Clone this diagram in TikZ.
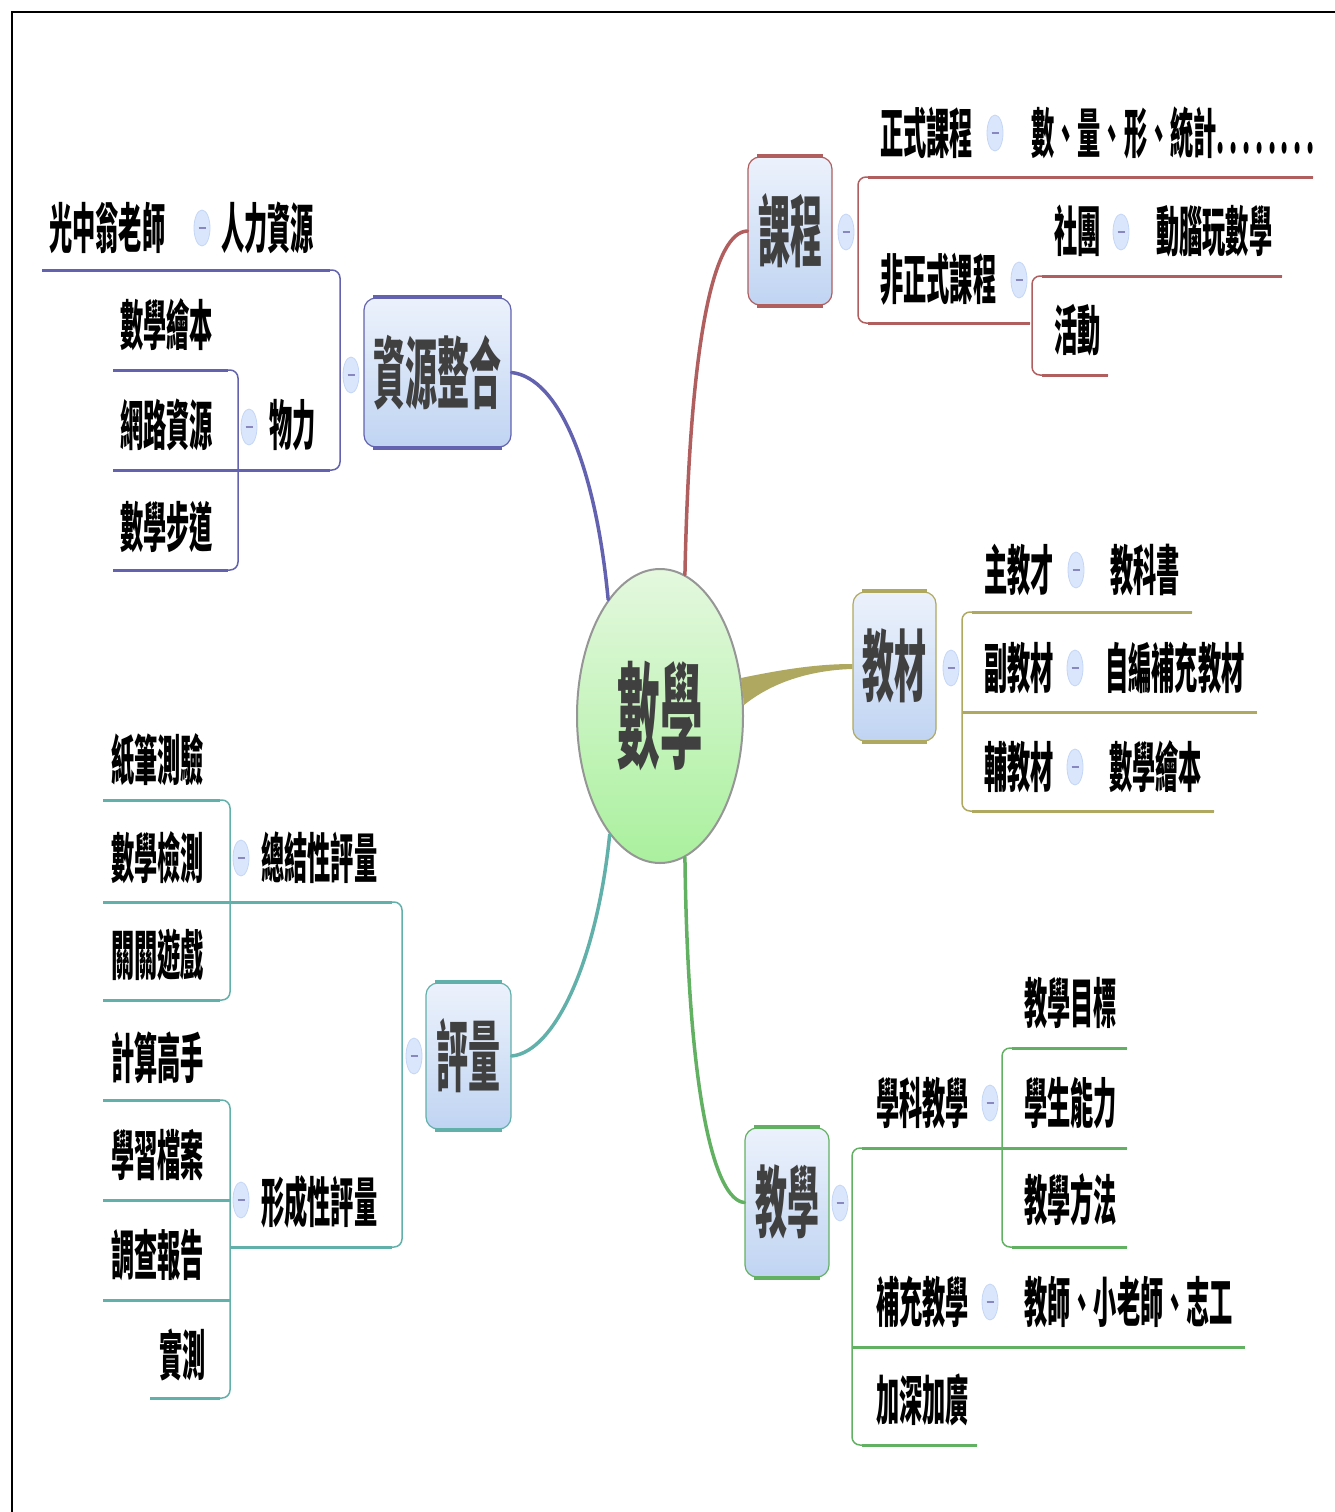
\documentclass[tikz,border=0pt]{standalone}
\usepackage{fontspec}
\usepackage{graphicx}
\newfontfamily\cjk{Noto Sans CJK TC}
\usetikzlibrary{shapes.geometric}
\definecolor{cRed}{RGB}{176,94,94}
\definecolor{cBlue}{RGB}{98,98,176}
\definecolor{cOlive}{RGB}{174,168,96}
\definecolor{cTeal}{RGB}{98,176,170}
\definecolor{cGreen}{RGB}{98,176,98}
\definecolor{boxTop}{RGB}{236,242,252}
\definecolor{boxBot}{RGB}{192,212,242}
\definecolor{knobFill}{RGB}{218,230,252}
\definecolor{knobEdge}{RGB}{196,214,246}
\definecolor{knobMinus}{RGB}{136,136,190}
\definecolor{txtGray}{RGB}{64,64,64}
\definecolor{ellTop}{RGB}{228,248,222}
\definecolor{ellBot}{RGB}{170,240,158}
\definecolor{ellEdge}{RGB}{150,150,150}
\newcommand{\sq}[2][0.43]{\scalebox{#1}[1]{#2}}
\newcommand{\dd}{.\kern0.2em}
\begin{document}
\begin{tikzpicture}[x=1pt,y=-1pt,
  sub/.style={inner sep=0pt, anchor=west, font=\cjk\bfseries\fontsize{54}{60}\selectfont, text=black},
  mainbox/.style={draw=#1, line width=1.2pt, rounded corners=12pt, top color=boxTop, bottom color=boxBot,
     inner sep=0pt, font=\cjk\bfseries\fontsize{78}{80}\selectfont, text=txtGray},
  knob/.style={ellipse, draw=knobEdge, fill=knobFill, line width=0.8pt, minimum width=16pt, minimum height=36pt, inner sep=0pt,
     path picture={\draw[knobMinus, line width=1.8pt] ([xshift=-3.5pt]path picture bounding box.center) -- ([xshift=3.5pt]path picture bounding box.center);}},
  hl/.style={line width=3pt, draw=#1},
  vl/.style={line width=1.5pt, draw=#1, rounded corners=8pt},
  conn/.style={line width=3.5pt, draw=#1, line cap=round},
]
\useasboundingbox (0,0) rectangle (1335,1512);
% frame
\draw[line width=2.5pt] (12,1512) -- (12,12) -- (1335,12);

% centre
\node[ellipse, minimum width=166pt, minimum height=294pt, inner sep=0pt, top color=ellTop, bottom color=ellBot,
      draw=ellEdge, line width=2pt, font=\cjk\bfseries\fontsize{115}{120}\selectfont, text=txtGray] (c) at (660,716) {\sq[0.37]{數學}};

% main boxes
\node[mainbox=cRed, minimum width=84pt, minimum height=148pt] (kc) at (790,231) {\sq[0.41]{課程}};
\node[mainbox=cBlue, minimum width=147pt, minimum height=149pt] (zy) at (437.5,372.5) {\sq[0.41]{資源整合}};
\node[mainbox=cOlive, minimum width=83pt, minimum height=149pt] (jc) at (894.5,666.5) {\sq[0.41]{教材}};
\node[mainbox=cTeal, minimum width=85pt, minimum height=146pt] (pl) at (468.5,1056) {\sq[0.41]{評量}};
\node[mainbox=cGreen, minimum width=84pt, minimum height=149pt] (jx) at (787,1202.5) {\sq[0.41]{教學}};
\foreach \b/\col in {kc/cRed, zy/cBlue, jc/cOlive, pl/cTeal, jx/cGreen}{
  \draw[line width=4pt, \col] ([xshift=10pt]\b.north west) -- ([xshift=-10pt]\b.north east);
  \draw[line width=4pt, \col] ([xshift=10pt]\b.south west) -- ([xshift=-10pt]\b.south east);
}

% connectors from centre
\draw[conn=cRed] (c.80) .. controls (690,330) and (715,232) .. (kc.west);
\draw[conn=cBlue] (c.114) .. controls (596,470) and (560,378) .. (zy.east);
\draw[conn=cTeal] (c.247) .. controls (597,960) and (555,1052) .. (pl.east);
\draw[conn=cGreen] (c.280) .. controls (688,1100) and (715,1200) .. (jx.west);
\coordinate (olA) at (741,678);
\coordinate (olB) at (744,705);
\fill[cOlive] (olA) .. controls (780,670) and (815,664) .. ([yshift=2.5pt]jc.west) -- ([yshift=-2.5pt]jc.west)
   .. controls (815,670) and (775,680) .. (olB) -- cycle;

% ---------- 課程 ----------
\node[knob] (kck) at (846,232) {};
\draw[vl=cRed] (1313,177) -- (858,177) -- (858,323) -- (1030,323);
\draw[hl=cRed] (868,177) -- (1313,177);
\draw[hl=cRed] (868,323) -- (1030,323);
\draw[vl=cRed] (1282,276) -- (1032,276) -- (1032,375) -- (1108,375);
\draw[hl=cRed] (1042,276) -- (1282,276);
\draw[hl=cRed] (1042,375) -- (1108,375);
\node[sub] (t1) at (880,133) {\sq{正式課程}};
\node[knob] (k1) at (995,133) {};
\node[sub] (t2) at (1031,133) {\sq{數、量、形、統計\dd\dd\dd\dd\dd\dd\dd.}};
\node[sub] (t3) at (880,279) {\sq{非正式課程}};
\node[knob] (k2) at (1019,280) {};
\node[sub] (t4) at (1054,231) {\sq{社團}};
\node[knob] (k3) at (1121,232) {};
\node[sub] (t5) at (1156,231) {\sq{動腦玩數學}};
\node[sub] (t6) at (1054,330) {\sq{活動}};

% ---------- 資源整合 ----------
\node[knob] (zyk) at (351,375) {};
\draw[vl=cBlue] (42,270) -- (340,270) -- (340,470) -- (113,470);
\draw[hl=cBlue] (42,270) -- (330,270);
\draw[hl=cBlue] (113,470) -- (330,470);
\draw[vl=cBlue] (113,370) -- (238,370) -- (238,570) -- (113,570);
\draw[hl=cBlue] (113,370) -- (228,370);
\draw[hl=cBlue] (113,570) -- (228,570);
\node[sub] (z1) at (49,228) {\sq{光中翁老師}};
\node[knob] (zk1) at (202,228) {};
\node[sub] (z2) at (221,228) {\sq{人力資源}};
\node[sub] (z3) at (120,325) {\sq{數學繪本}};
\node[sub] (z4) at (120,425) {\sq{網路資源}};
\node[sub] (z5) at (120,527) {\sq{數學步道}};
\node[knob] (zk2) at (249,427) {};
\node[sub] (z6) at (269,425) {\sq{物力}};

% ---------- 教材 ----------
\node[knob] (jck) at (951,668) {};
\draw[vl=cOlive] (1192,612) -- (962,612) -- (962,811) -- (1214,811);
\draw[hl=cOlive] (972,612) -- (1192,612);
\draw[hl=cOlive] (972,811) -- (1214,811);
\draw[hl=cOlive] (962,712) -- (1257,712);
\node[sub] (m1) at (984,570) {\sq{主教才}};
\node[knob] (mk1) at (1076,570) {};
\node[sub] (m2) at (1110,570) {\sq{教科書}};
\node[sub] (m3) at (984,668) {\sq{副教材}};
\node[knob] (mk2) at (1075,668) {};
\node[sub] (m4) at (1105,668) {\sq{自編補充教材}};
\node[sub] (m5) at (984,767) {\sq{輔教材}};
\node[knob] (mk3) at (1075,767) {};
\node[sub] (m6) at (1109,767) {\sq{數學繪本}};

% ---------- 評量 ----------
\node[knob] (plk) at (414,1056) {};
\draw[vl=cTeal] (103,902) -- (402,902) -- (402,1247) -- (230,1247);
\draw[hl=cTeal] (103,902) -- (392,902);
\draw[hl=cTeal] (230,1247) -- (392,1247);
\draw[vl=cTeal] (103,800) -- (230,800) -- (230,1000) -- (103,1000);
\draw[hl=cTeal] (103,800) -- (220,800);
\draw[hl=cTeal] (103,1000) -- (220,1000);
\draw[vl=cTeal] (103,1100) -- (230,1100) -- (230,1398) -- (150,1398);
\draw[hl=cTeal] (103,1100) -- (220,1100);
\draw[hl=cTeal] (150,1398) -- (220,1398);
\draw[hl=cTeal] (103,1200) -- (230,1200);
\draw[hl=cTeal] (103,1300) -- (230,1300);
\node[sub] (p1) at (111,760) {\sq{紙筆測驗}};
\node[sub] (p2) at (111,858) {\sq{數學檢測}};
\node[sub] (p3) at (111,955) {\sq{關關遊戲}};
\node[sub] (p4) at (111,1058) {\sq{計算高手}};
\node[sub] (p5) at (111,1155) {\sq{學習檔案}};
\node[sub] (p6) at (111,1255) {\sq{調查報告}};
\node[sub] (p7) at (159,1355) {\sq{實測}};
\node[knob] (pk1) at (241,858) {};
\node[sub] (p8) at (261,858) {\sq{總結性評量}};
\node[knob] (pk2) at (241,1200) {};
\node[sub] (p9) at (261,1202) {\sq{形成性評量}};

% ---------- 教學 ----------
\node[knob] (jxk) at (840,1203) {};
\draw[vl=cGreen] (1127,1148) -- (852,1148) -- (852,1445) -- (977,1445);
\draw[hl=cGreen] (862,1148) -- (1127,1148);
\draw[hl=cGreen] (862,1445) -- (977,1445);
\draw[hl=cGreen] (852,1347) -- (1245,1347);
\draw[vl=cGreen] (1127,1048) -- (1002,1048) -- (1002,1247) -- (1127,1247);
\draw[hl=cGreen] (1012,1048) -- (1127,1048);
\draw[hl=cGreen] (1012,1247) -- (1127,1247);
\node[sub] (x1) at (876,1103) {\sq{學科教學}};
\node[knob] (xk1) at (990,1103) {};
\node[sub] (x2) at (1024,1003) {\sq{教學目標}};
\node[sub] (x3) at (1024,1103) {\sq{學生能力}};
\node[sub] (x4) at (1024,1200) {\sq{教學方法}};
\node[sub] (x5) at (876,1302) {\sq{補充教學}};
\node[knob] (xk2) at (990,1302) {};
\node[sub] (x6) at (1024,1302) {\sq{教師、小老師、志工}};
\node[sub] (x7) at (876,1400) {\sq{加深加廣}};
\end{tikzpicture}
\end{document}
